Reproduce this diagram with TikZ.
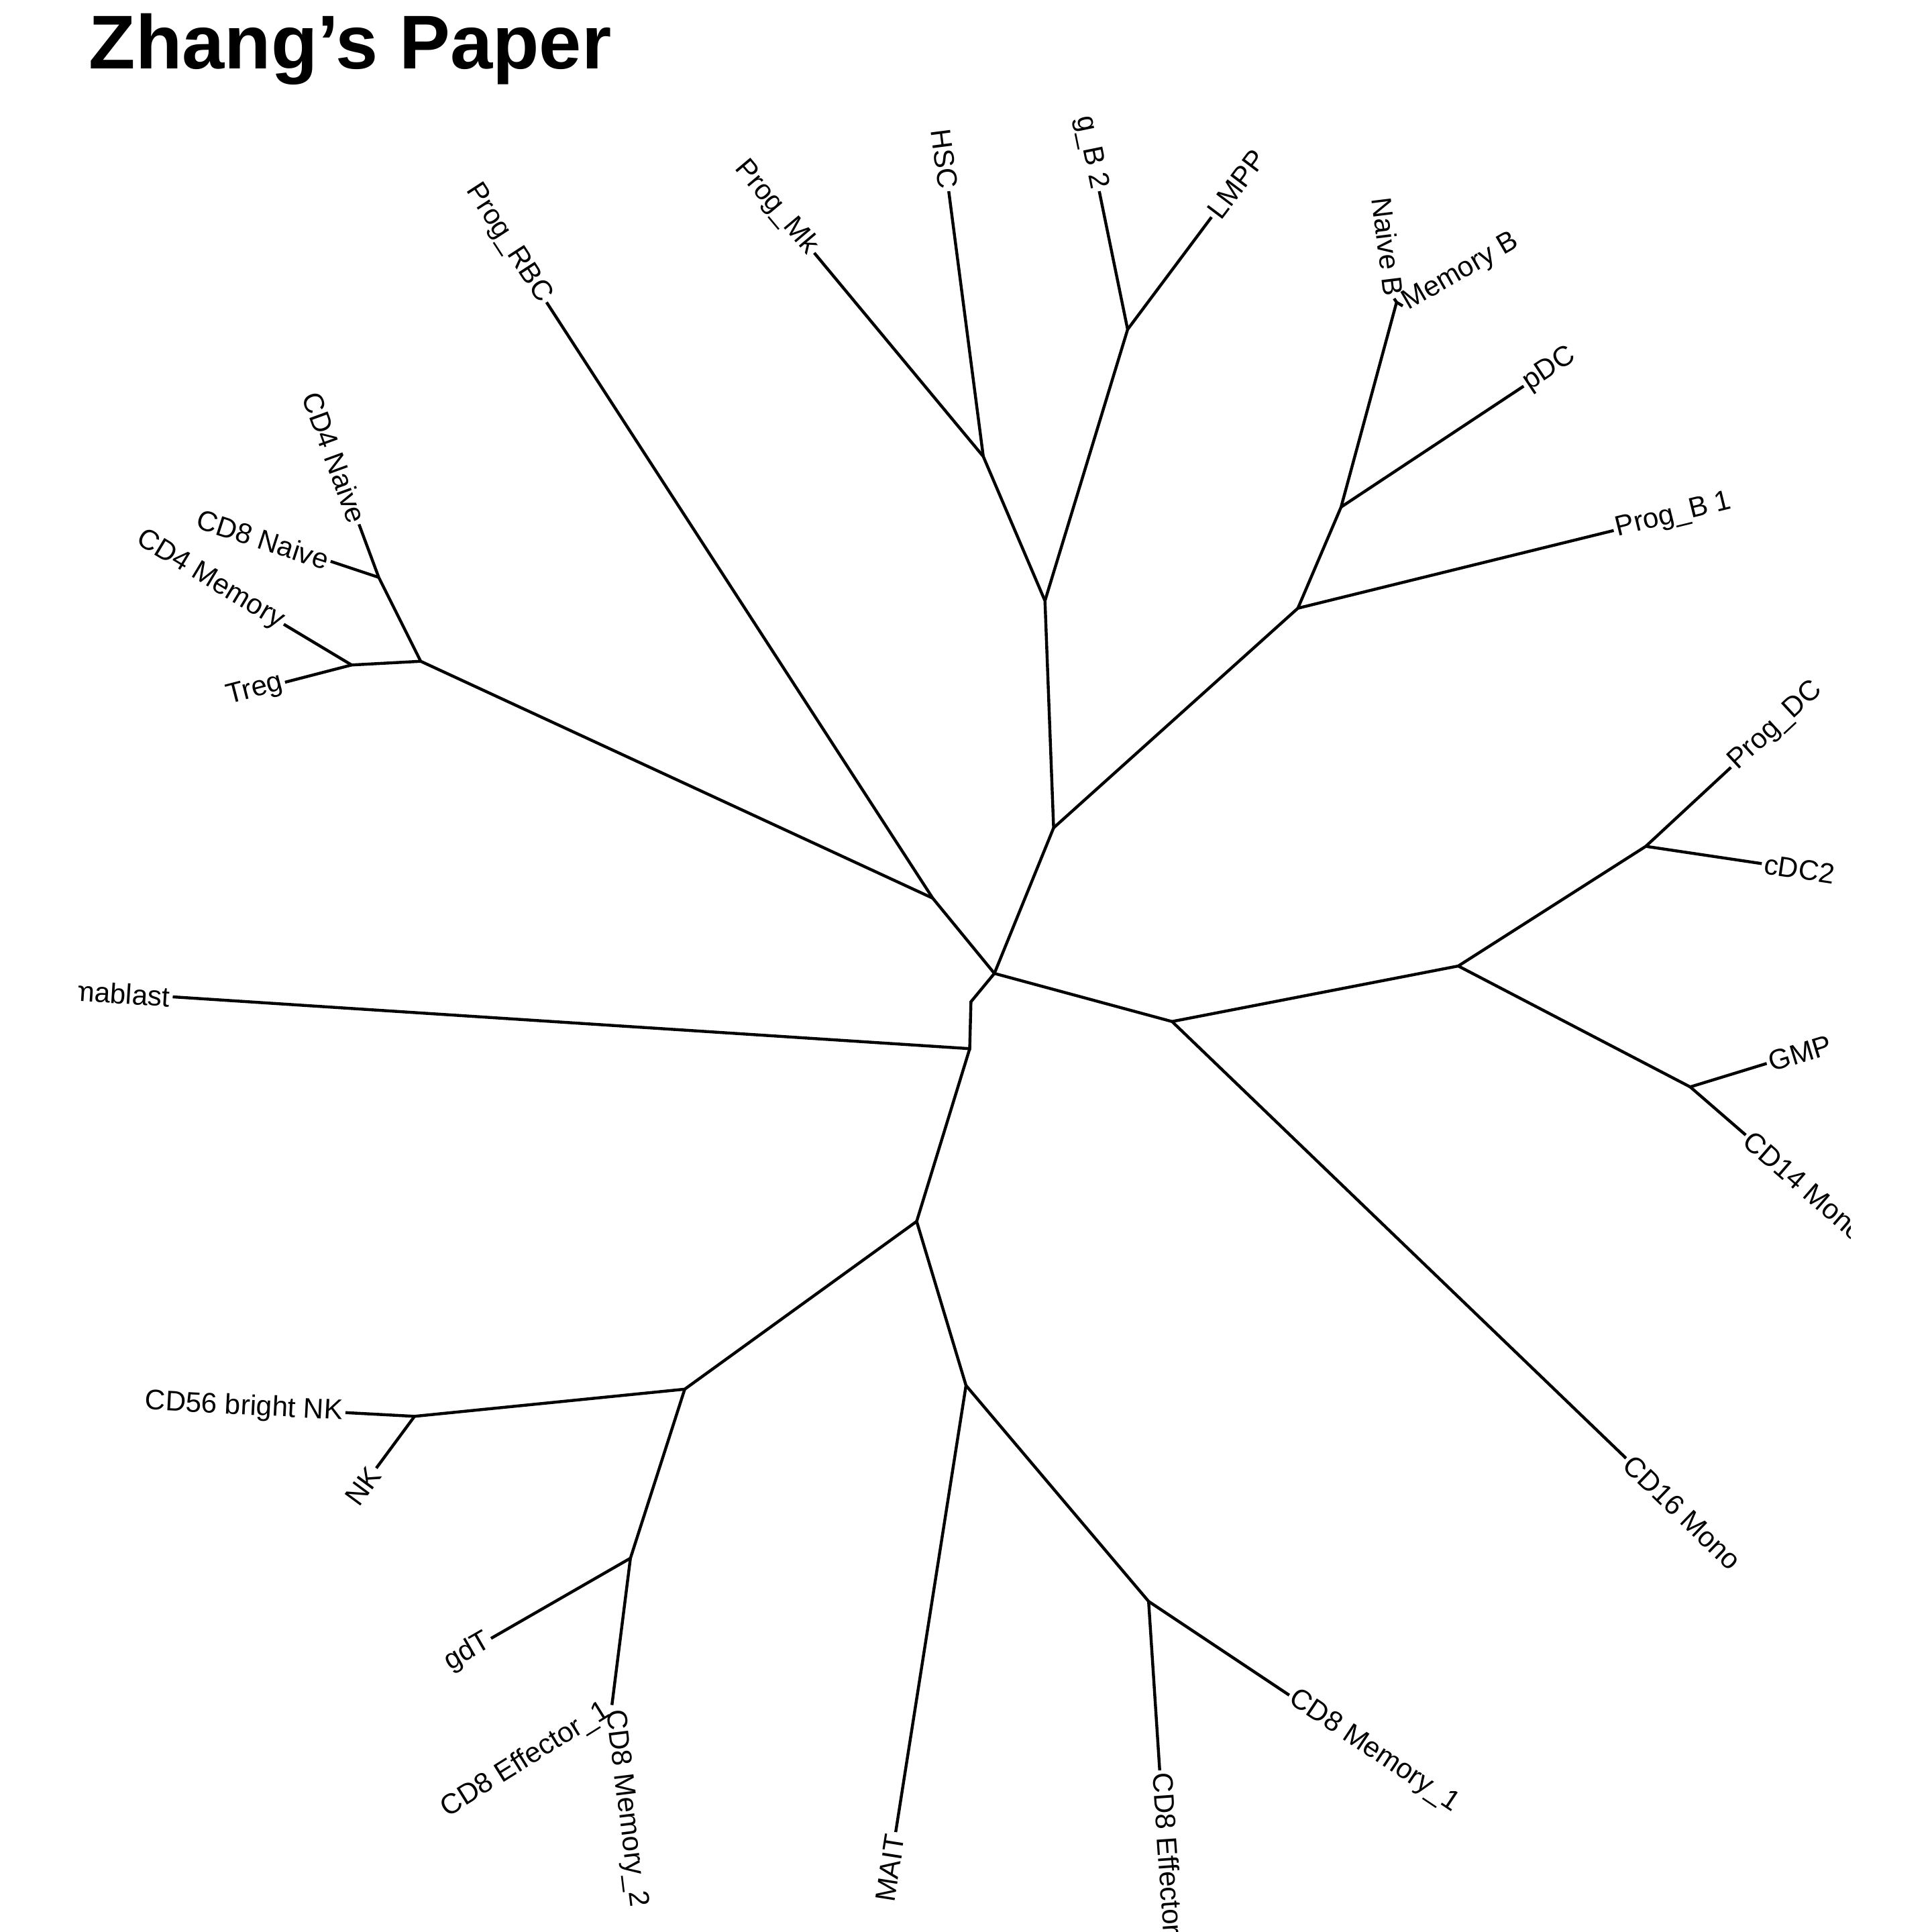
\documentclass[tikz,border=0pt]{standalone}
\usepackage{fontspec}
\setmainfont{Liberation Sans}
\begin{document}
\begin{tikzpicture}[x=1bp,y=-1bp,
  br/.style={line width=2.4bp},
  lab/.style={font=\fontsize{23}{26}\selectfont,inner sep=2bp},
  L/.style={lab,anchor=east},
  R/.style={lab,anchor=west}]
\useasboundingbox (0,0) rectangle (1566,1566);
\node[anchor=west,font=\fontsize{62}{70}\selectfont\bfseries,inner sep=0] (title) at (72,40) {Zhang{\char"0027}s Paper};
\begin{scope}
\clip (64,0) rectangle (1500,1566);
\foreach \n/\p in {a/{806,789},b/{787,812},c/{786,850},d/{756,728},e/{341,536},f/{307,468},g/{285,539},
 h/{854,671},i/{847,487},j/{797,370},k/{914,267},l/{1052,493},m/{1087,411},mm/{1132,245},
 n/{950,828},o/{1182,783},p/{1334,686},q/{1370,881},
 r/{743,990},s/{555,1126},t/{336,1148},u/{511,1263},uu/{496,1382},v/{783,1123},w/{931,1298}}
 {\coordinate (\n) at (\p);}
\foreach \n/\p/\t/\r/\s in {
 rbc/{443,245}/Prog\_RBC/-57/L, cd4n/{291,425}/CD4 Naive/-70/L, cd8n/{268,455}/CD8 Naive/-18/L,
 cd4m/{230,506}/CD4 Memory/-31/L, treg/{231,553}/Treg/14.5/L,
 mk/{660,205}/Prog\_Mk/-50/L, hsc/{769,155}/HSC/-82.6/L, gb/{891,155}/g\_B 2/-78.4/L,
 lmpp/{982,176}/LMPP/53/R, nb/{1130,242}/Naive B/-83/L, memb/{1137,248}/Memory B/30/R,
 pdc/{1235,313}/pDC/33.5/R, pb/{1308,430}/Prog\_B 1/13.8/R,
 pdcc/{1403,622}/Prog\_DC/42.8/R, cdc/{1428,700}/cDC2/-8.5/R, gmp/{1432,862}/GMP/17/R,
 c14/{1415,920}/CD14 Mono/-41/R, c16/{1318,1182}/CD16 Mono/-44/R,
 pla/{140,808}/Plasmablast/-3.7/L, c56/{280,1145}/CD56 bright NK/-3/L, nk/{305,1190}/NK/53.6/L,
 gdt/{398,1328}/gdT/30/L, eff1/{494,1384}/CD8 Effector\_1/32/L, mem2/{497,1384}/CD8 Memory\_2/-83/R,
 mait/{726,1485}/MAIT/81/L, eff2/{940,1435}/CD8 Effector\_2/-86/R, mem1/{1045,1374}/CD8 Memory\_1/-33.7/R}
 {\node[\s,rotate=\r] (\n) at (\p) {\t};}
\draw[br] (a)--(b)--(c)--(pla.east);
\draw[br] (c)--(r); \draw[br] (a)--(d); \draw[br] (a)--(h); \draw[br] (a)--(n);
\draw[br] (d)--(rbc.east); \draw[br] (d)--(e)--(f)--(cd4n.east); \draw[br] (f)--(cd8n.east);
\draw[br] (e)--(g)--(cd4m.east); \draw[br] (g)--(treg.east);
\draw[br] (h)--(i)--(j)--(mk.east); \draw[br] (j)--(hsc.east);
\draw[br] (i)--(k)--(gb.east); \draw[br] (k)--(lmpp.west);
\draw[br] (h)--(l)--(m)--(mm)--(nb.east); \draw[br] (mm)--(memb.west);
\draw[br] (m)--(pdc.west); \draw[br] (l)--(pb.west);
\draw[br] (n)--(o)--(p)--(pdcc.west); \draw[br] (p)--(cdc.west);
\draw[br] (o)--(q)--(gmp.west); \draw[br] (q)--(c14.west); \draw[br] (n)--(c16.west);
\draw[br] (r)--(s)--(t)--(c56.east); \draw[br] (t)--(nk.east);
\draw[br] (s)--(u)--(gdt.east); \draw[br] (u)--(uu);
\draw[br] (r)--(v)--(mait.east); \draw[br] (v)--(w)--(eff2.west); \draw[br] (w)--(mem1.west);
\end{scope}
\end{tikzpicture}
\end{document}
